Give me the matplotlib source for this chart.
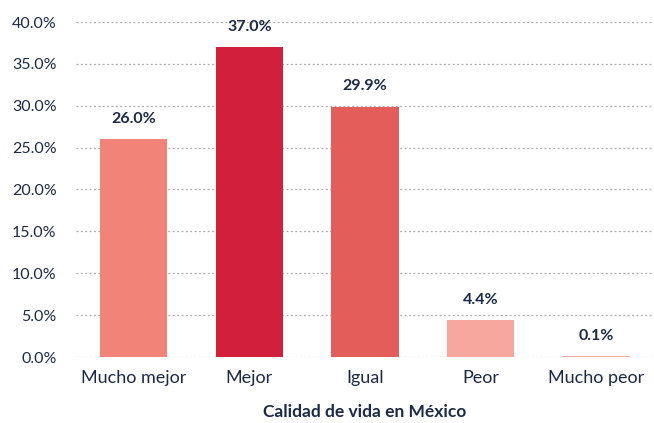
import matplotlib
matplotlib.use("Agg")
import matplotlib.pyplot as plt
from matplotlib.ticker import PercentFormatter

categories = ["Mucho mejor", "Mejor", "Igual", "Peor", "Mucho peor"]
values = [26.0, 37.0, 29.9, 4.4, 0.1]
colors = ["#F28379", "#D21F3C", "#E35D5A", "#F7A79D", "#F7A79D"]
xlabel = "Calidad de vida en México"
yticks = [0, 5, 10, 15, 20, 25, 30, 35, 40]

plt.rcParams['font.family'] = ['Lato', 'DejaVu Sans']
text_color = "#1B2A47"

fig = plt.figure(figsize=(6.54, 4.23), dpi=100)
ax = fig.add_axes([76/654, 1-357/423, 578/654, 335/423])
x = range(len(categories))
bars = ax.bar(x, values, width=0.58, color=colors, zorder=3)
for xi, v in zip(x, values):
    ax.text(xi, v + 1.6, f"{v:.1f}%", ha="center", va="bottom", fontsize=11.5,
            fontweight="bold", color=text_color)
ax.set_xlim(-0.5, 4.5)
ax.set_ylim(0, 40)
ax.set_yticks(yticks)
ax.yaxis.set_major_formatter(PercentFormatter(decimals=1))
ax.set_xticks(list(x))
ax.set_xticklabels(categories)
ax.tick_params(axis="both", length=0, colors=text_color)
ax.tick_params(axis="y", pad=14, labelsize=11.5)
ax.tick_params(axis="x", pad=9, labelsize=13)
ax.grid(axis="y", linestyle=(0, (1.5, 2)), color="#AAAAAA", linewidth=0.9, zorder=0)
for s in ax.spines.values():
    s.set_visible(False)
ax.set_xlabel(xlabel, fontsize=12.5, fontweight="bold", color=text_color, labelpad=13)
fig.savefig("out.png", dpi=100)
